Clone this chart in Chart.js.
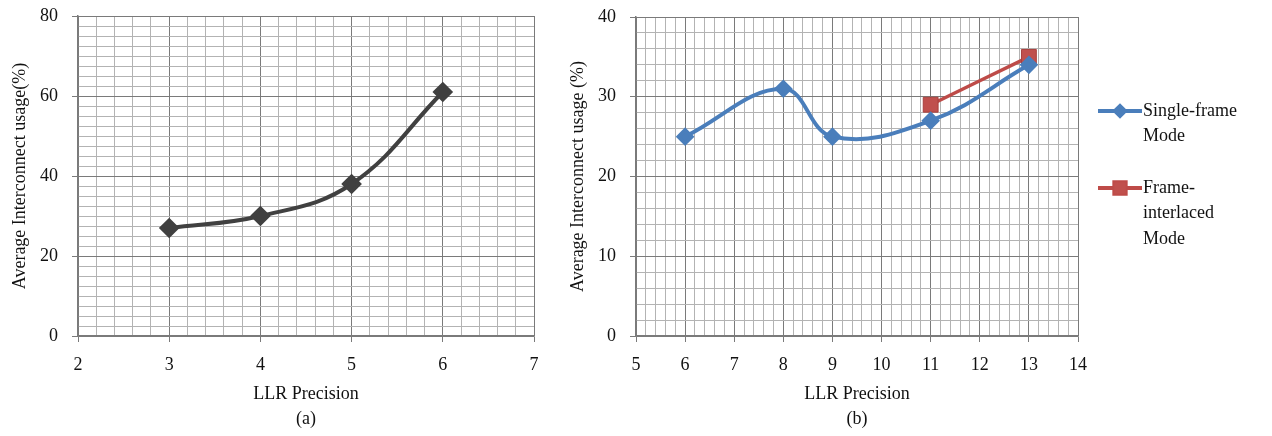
<!DOCTYPE html>
<html>
<head>
<meta charset="utf-8">
<script src="https://cdn.jsdelivr.net/npm/chart.js@4.4.1/dist/chart.umd.min.js"></script>
<style>
  body { margin: 0; background: #fff; }
  .wrap { position: absolute; top: 0; height: 436px; }
  #wrapA { left: 0; width: 560px; }
  #wrapB { left: 560px; width: 712px; }
</style>
</head>
<body>
<div class="wrap" id="wrapA"><canvas id="chartA"></canvas></div>
<div class="wrap" id="wrapB"><canvas id="chartB"></canvas></div>
<script>
// (a) usage vs LLR precision
const precisionA = [3, 4, 5, 6];
const usageA = [27, 30, 38, 61];

// (b) single-frame vs frame-interlaced
const precisionB = [6, 8, 9, 11, 13];
const singleFrame = [25, 31, 25, 27, 34];
const precisionInterlaced = [11, 13];
const interlaced = [29, 35];

const legendText = [['Single-frame', 'Mode'], ['Frame-', 'interlaced', 'Mode']];
const yTitle = ['Average Interconnect usage(%)', 'Average Interconnect usage (%)'];
const xTitle = 'LLR Precision';

Chart.defaults.font.family = "'Liberation Serif', 'Times New Roman', serif";
Chart.defaults.font.size = 17;
Chart.defaults.color = '#111';
Chart.defaults.animation = false;

const MAJOR = '#7a7a7a';
const MINOR = '#b3b3b3';

function onStep(v, step) {
  const q = v / step;
  return Math.abs(q - Math.round(q)) < 1e-6;
}

function points(xs, ys) {
  return xs.map((x, i) => ({ x: x, y: ys[i] }));
}

// linear axis with minor grid; only major ticks get a label and a tick mark
function axis(min, max, minor, major, pad, opts) {
  return Object.assign({
    type: 'linear',
    min: min,
    max: max,
    ticks: {
      stepSize: minor,
      autoSkip: false,
      maxRotation: 0,
      padding: pad,
      font: { size: 18 },
      callback: v => onStep(v, major) ? String(Math.round(v)) : ''
    },
    grid: {
      color: c => c.tick && onStep(c.tick.value, major) ? MAJOR : MINOR,
      tickColor: c => c.tick && onStep(c.tick.value, major) ? MAJOR : 'rgba(0,0,0,0)',
      tickLength: 6,
      lineWidth: 1
    },
    border: { color: MAJOR, width: 1.5 }
  }, opts);
}

// fixed axis box; the vertical axis does not push the plot area down
function fixedSize(size) {
  return scale => {
    if (scale.isHorizontal()) {
      scale.height = size;
    } else {
      scale.width = size;
      scale.paddingTop = 0;
      scale.paddingBottom = 0;
    }
  };
}

// two-line legend to the right of the plot
const sideLegend = {
  id: 'sideLegend',
  afterDraw(chart) {
    const ctx = chart.ctx;
    const x0 = chart.chartArea.right + 20;
    const rows = [111, 188];
    ctx.save();
    chart.data.datasets.forEach((ds, i) => {
      const y = rows[i];
      ctx.strokeStyle = ds.borderColor;
      ctx.lineWidth = 4;
      ctx.beginPath();
      ctx.moveTo(x0, y);
      ctx.lineTo(x0 + 44, y);
      ctx.stroke();
      Chart.helpers.drawPoint(ctx, {
        pointStyle: ds.pointStyle,
        radius: ds.pointStyle === 'rect' ? 8 : 5,
        borderWidth: 1
      }, x0 + 22, y);
      ctx.fillStyle = ds.pointBackgroundColor;
      ctx.fill();
      ctx.fillStyle = '#111';
      ctx.font = "18px 'Liberation Serif', serif";
      ctx.textBaseline = 'middle';
      legendText[i].forEach((t, k) => ctx.fillText(t, x0 + 45, y + k * 25.5));
    });
    ctx.restore();
  }
};

const titleFont = { size: 18, lineHeight: 1.4 };

new Chart(document.getElementById('chartA'), {
  type: 'line',
  data: {
    datasets: [{
      data: points(precisionA, usageA),
      borderColor: '#404040',
      backgroundColor: '#404040',
      borderWidth: 4,
      tension: 0.4,
      pointStyle: 'rectRot',
      pointRadius: 7.5,
      pointBackgroundColor: '#404040',
      pointBorderColor: '#404040'
    }]
  },
  options: {
    responsive: true,
    maintainAspectRatio: false,
    layout: { padding: { top: 16, right: 26, left: 0, bottom: 0 } },
    plugins: { legend: { display: false }, tooltip: { enabled: false } },
    scales: {
      x: axis(2, 7, 0.2, 1, 12, {
        afterFit: fixedSize(100),
        title: { display: true, text: [xTitle, '(a)'], font: titleFont, padding: { top: 0, bottom: 4 } }
      }),
      y: axis(0, 80, 2.5, 20, 14, {
        afterFit: fixedSize(78),
        title: { display: true, text: yTitle[0], font: titleFont, padding: { top: 8, bottom: 0 } }
      })
    }
  }
});

new Chart(document.getElementById('chartB'), {
  type: 'line',
  data: {
    datasets: [{
      label: 'Single-frame Mode',
      data: points(precisionB, singleFrame),
      borderColor: '#4A7EBB',
      borderWidth: 4,
      tension: 0.4,
      pointStyle: 'rectRot',
      pointRadius: 6.5,
      pointBackgroundColor: '#4A7EBB',
      pointBorderColor: '#4A7EBB'
    }, {
      label: 'Frame-interlaced Mode',
      data: points(precisionInterlaced, interlaced),
      borderColor: '#BE4B48',
      borderWidth: 3.5,
      tension: 0.4,
      pointStyle: 'rect',
      pointRadius: 10.5,
      pointBackgroundColor: '#C0504D',
      pointBorderColor: '#A8403D',
      pointBorderWidth: 1
    }]
  },
  options: {
    responsive: true,
    maintainAspectRatio: false,
    layout: { padding: { top: 17, right: 194, left: 0, bottom: 0 } },
    plugins: { legend: { display: false }, tooltip: { enabled: false } },
    scales: {
      x: axis(5, 14, 0.2, 1, 12, {
        afterFit: fixedSize(100),
        title: { display: true, text: [xTitle, '(b)'], font: titleFont, padding: { top: 0, bottom: 4 } }
      }),
      y: axis(0, 40, 2, 10, 14, {
        afterFit: fixedSize(76),
        title: { display: true, text: yTitle[1], font: titleFont, padding: { top: 6, bottom: 0 } }
      })
    }
  },
  plugins: [sideLegend]
});
</script>
</body>
</html>
